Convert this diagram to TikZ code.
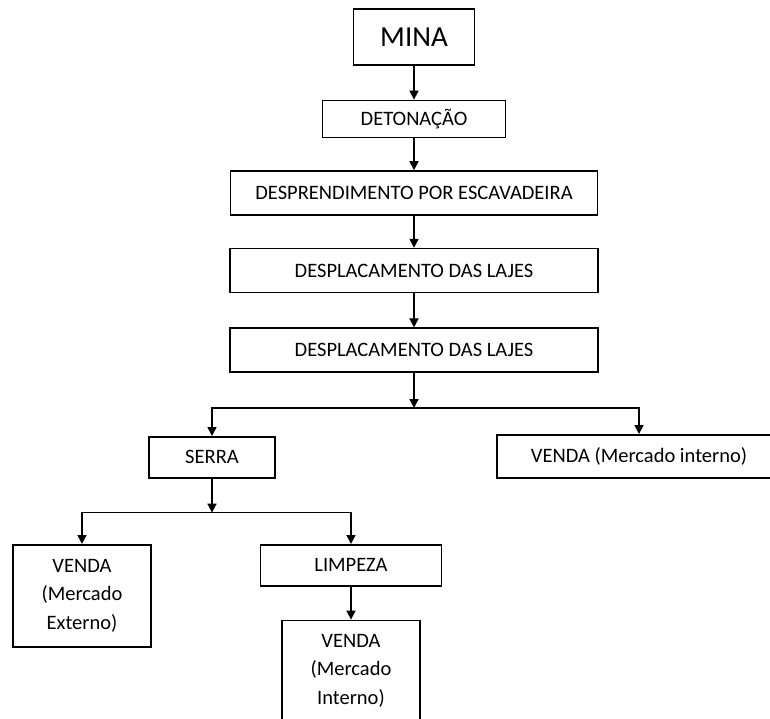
\documentclass[tikz,border=0pt]{standalone}
\usepackage{fontspec}
\setmainfont{Carlito}
\usetikzlibrary{positioning}
\usetikzlibrary{arrows.meta}
\tikzset{
  box/.style      = { rectangle, draw=black, line width=1.6pt, align=center,
                      font=\fontsize{20.5}{28.5}\selectfont },
  stepbox/.style  = { box, minimum height=44pt },
  bigbox/.style   = { box, minimum width=121pt, minimum height=56pt,
                      font=\fontsize{29}{34}\selectfont },
  salebox/.style  = { box, minimum width=138pt, minimum height=102pt },
}

\begin{document}
\begin{tikzpicture}[
  x=1pt,y=-1pt,
  node distance=33pt,
  >={Triangle[length=9pt,width=9pt]},line width=1.6pt
]
  \useasboundingbox (0,0) rectangle (770,718);

  % main column
  \node (mina)   [bigbox,anchor=north] at (414,8)                 {MINA};
  \node (deto)   [stepbox,minimum width=183pt,minimum height=37pt,
                  below=34pt of mina]                             {DETONAÇÃO};
  \node (despr)  [stepbox,minimum width=367pt,below=32pt of deto] {DESPRENDIMENTO POR ESCAVADEIRA};
  \node (lajes1) [stepbox,minimum width=368pt,below=32pt of despr]{DESPLACAMENTO DAS LAJES};
  \node (lajes2) [stepbox,minimum width=368pt,below=34pt of lajes1]{DESPLACAMENTO DAS LAJES};

  % first split
  \coordinate [below=35pt of lajes2] (split1);
  \node (serra)  [stepbox,minimum width=126pt,minimum height=41pt,anchor=north]
                 at (212,436)                                     {SERRA};
  \node (vint)   [stepbox,minimum width=284pt,minimum height=43pt,anchor=north]
                 at (639,434)                                     {VENDA (Mercado interno)};

  % second split
  \coordinate [below=34pt of serra] (split2);
  \node (vext)   [salebox,anchor=north] at (82,544)               {VENDA\\(Mercado\\Externo)};
  \node (limp)   [stepbox,minimum width=181pt,minimum height=41pt,anchor=north]
                 at (351,544)                                     {LIMPEZA};
  \node (vint2)  [salebox,minimum height=100pt,below=33pt of limp]{VENDA\\(Mercado\\Interno)};

  \draw [->] (mina)   -- (deto);
  \draw [->] (deto)   -- (despr);
  \draw [->] (despr)  -- (lajes1);
  \draw [->] (lajes1) -- (lajes2);
  \draw [->] (lajes2) -- (split1);
  \draw [->] (split1) -| (serra);
  \draw [->] (split1) -| (vint);
  \draw [->] (serra)  -- (split2);
  \draw [->] (split2) -| (vext);
  \draw [->] (split2) -| (limp);
  \draw [->] (limp)   -- (vint2);

\end{tikzpicture}
\end{document}
